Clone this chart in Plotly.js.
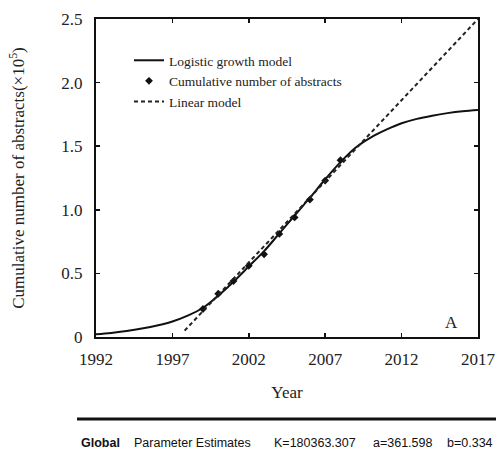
<!DOCTYPE html>
<html>
<head>
<meta charset="utf-8">
<script src="https://cdn.plot.ly/plotly-3.0.1.min.js"></script>
<style>html,body{margin:0;padding:0;background:#fff;}#chart{width:496px;height:463px;}</style>
</head>
<body>
<div id="chart"></div>
<script>
// Logistic growth model curve (×10^5)
const modelYears = [1992,1993,1994,1995,1996,1997,1998,1999,2000,2001,2002,2003,2004,2005,2006,2007,2008,2009,2010,2011,2012,2013,2014,2015,2016,2017];
const modelValues = [0.022,0.032,0.047,0.066,0.09,0.122,0.168,0.23,0.325,0.435,0.555,0.675,0.815,0.955,1.095,1.24,1.375,1.49,1.57,1.63,1.68,1.715,1.74,1.76,1.775,1.785];
// Observed cumulative number of abstracts
const obsYears = [1999,2000,2001,2002,2003,2004,2005,2006,2007,2008];
const obsValues = [0.22,0.34,0.44,0.56,0.65,0.81,0.94,1.08,1.23,1.39];
// Linear model endpoints
const linYears = [1997.8,2017];
const linValues = [0.05,2.5];
// Axis ticks
const xTicks = [1992,1997,2002,2007,2012,2017];
const yTicks = [0,0.5,1.0,1.5,2.0,2.5];
const yTickLabels = ['0','0.5','1.0','1.5','2.0','2.5'];

const W = 496, H = 463;
const M = {l:96, r:18, t:19, b:126};
const pw = W - M.l - M.r, ph = H - M.t - M.b;
const px = x => (x - M.l) / pw;
const py = y => (H - M.b - y) / ph;

const serif = 'Liberation Serif, Times New Roman, serif';
const sans = 'Liberation Sans, Arial, sans-serif';

const traces = [
  {x: modelYears, y: modelValues, type:'scatter', mode:'lines', name:'Logistic growth model',
   line:{color:'#111', width:2, shape:'spline'}},
  {x: obsYears, y: obsValues, type:'scatter', mode:'markers', name:'Cumulative number of abstracts',
   marker:{color:'#111', size:6, symbol:'diamond'}},
  {x: linYears, y: linValues, type:'scatter', mode:'lines', name:'Linear model',
   line:{color:'#222', width:2, dash:'4px,3px'}}
];

const axisCommon = {
  showline:true, linecolor:'#111', linewidth:2, mirror:'ticks',
  ticks:'inside', ticklen:4, tickwidth:1.5, tickcolor:'#111',
  showgrid:false, zeroline:false,
  tickfont:{family:serif, size:17, color:'#222'}
};

const layout = {
  width: W, height: H,
  margin: M,
  paper_bgcolor:'#fff', plot_bgcolor:'#fff',
  showlegend: true,
  legend: {x: px(129), y: py(45), xanchor:'left', yanchor:'top',
    bgcolor:'rgba(0,0,0,0)', font:{family:serif, size:13.5, color:'#222'}},
  xaxis: Object.assign({}, axisCommon, {
    range:[1992, 2017], tickvals: xTicks, ticktext: xTicks.map(String),
    ticklabelstandoff: 6,
    title:{text:'Year', font:{family:serif, size:17, color:'#222'}, standoff: 18}
  }),
  yaxis: Object.assign({}, axisCommon, {
    range:[0, 2.5], tickvals: yTicks, ticktext: yTickLabels,
    ticklabelstandoff: 8,
    title:{text:'Cumulative number of abstracts(×10<sup>5</sup>)', font:{family:serif, size:17, color:'#222'}, standoff: 32}
  }),
  shapes: [
    {type:'line', xref:'paper', yref:'paper', x0:px(77), x1:px(496), y0:py(419), y1:py(419),
     line:{color:'#111', width:3}}
  ],
  annotations: [
    {text:'A', xref:'paper', yref:'paper', x:px(451), y:py(322), xanchor:'center', yanchor:'middle',
     showarrow:false, font:{family:serif, size:17, color:'#222'}},
    {text:'<b>Global</b>', xref:'paper', yref:'paper', x:px(79), y:py(443), xanchor:'left', yanchor:'middle',
     showarrow:false, font:{family:sans, size:12.5, color:'#111'}},
    {text:'Parameter Estimates', xref:'paper', yref:'paper', x:px(132), y:py(443), xanchor:'left', yanchor:'middle',
     showarrow:false, font:{family:sans, size:12.5, color:'#111'}},
    {text:'K=180363.307', xref:'paper', yref:'paper', x:px(272), y:py(443), xanchor:'left', yanchor:'middle',
     showarrow:false, font:{family:sans, size:12.5, color:'#111'}},
    {text:'a=361.598', xref:'paper', yref:'paper', x:px(371), y:py(443), xanchor:'left', yanchor:'middle',
     showarrow:false, font:{family:sans, size:12.5, color:'#111'}},
    {text:'b=0.334', xref:'paper', yref:'paper', x:px(445), y:py(443), xanchor:'left', yanchor:'middle',
     showarrow:false, font:{family:sans, size:12.5, color:'#111'}}
  ]
};

Plotly.newPlot('chart', traces, layout, {displayModeBar:false, staticPlot:true});
</script>
</body>
</html>
